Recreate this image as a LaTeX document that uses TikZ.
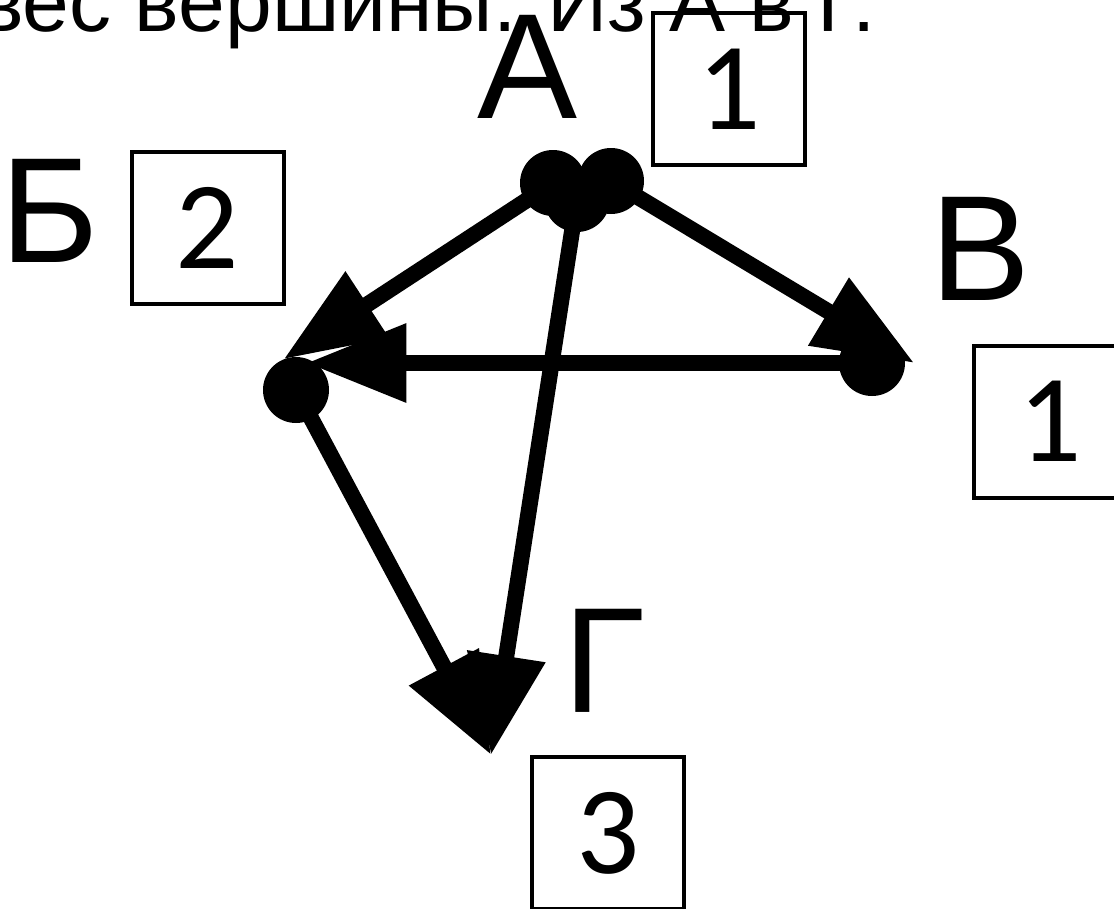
\documentclass[tikz,border=0pt]{standalone}
\usepackage{fontspec}
\setmainfont{Liberation Sans}
\newfontfamily\digitfont{Carlito}
\usetikzlibrary{arrows.meta}
\begin{document}
\begin{tikzpicture}[x=1pt,y=-1pt,
 dot/.style={circle,fill=black,inner sep=0pt,minimum size=66pt},
 edge/.style={line width=16pt,-{Triangle[length=100pt,width=75pt]}},
 lbl/.style={font=\fontsize{150}{150}\selectfont,anchor=base,inner sep=0pt},
 wbox/.style={draw,line width=4pt,minimum size=152pt,inner sep=0pt,font=\digitfont\fontsize{125}{125}\selectfont},
 ttl/.style={font=\fontsize{84}{84}\selectfont,anchor=base east,inner sep=0pt}]
\useasboundingbox (0,0) rectangle (1114,908);
\clip (0,0) rectangle (1114,908);
\node[ttl] (title) at (876,31) {вес вершины. Из А в Г.};
\node[lbl] (lA) at (528,118) {А};
\node[lbl] (lB) at (50,262) {Б};
\node[lbl] (lV) at (981,300) {В};
\node[lbl] (lG) at (604,712) {Г};
\node[wbox] (w1) at (729,89) {1};
\node[wbox] (w2) at (207.5,227.5) {2};
\node[wbox] (w3) at (1050,421.5) {1};
\node[wbox] (w4) at (608,833) {3};
\node[dot] (a1) at (553,183) {};
\node[dot] (a2) at (611,181) {};
\node[dot] (a3) at (577,199) {};
\node[dot] (b) at (296,390) {};
\node[dot] (v) at (872,363) {};
\coordinate (g) at (491,755);
\draw[edge] (a1.center) -- (b.112);
\draw[edge] (a2.center) -- ([xshift=9pt]v.east);
\draw[edge] (a3.center) -- (g);
\draw[edge] (v.center) -- (v.center -| b.72);
\draw[edge] (b.center) -- (g);
\end{tikzpicture}
\end{document}
